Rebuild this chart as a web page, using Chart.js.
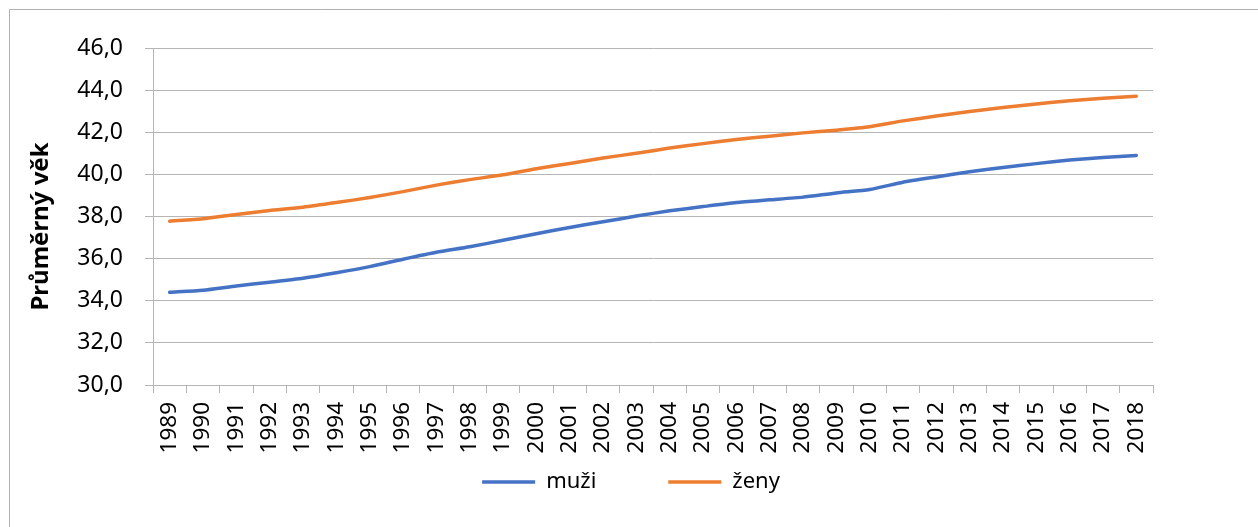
<!DOCTYPE html>
<html lang="cs">
<head>
<meta charset="utf-8">
<title>Průměrný věk</title>
<script src="https://cdn.jsdelivr.net/npm/chart.js@4/dist/chart.umd.min.js"></script>
<style>
  html, body { margin: 0; padding: 0; background: #ffffff; }
  #wrap { position: relative; width: 1258px; height: 527px; }
</style>
</head>
<body>
<div id="wrap"><canvas id="chart" width="1258" height="527"></canvas></div>
<script>
// Years on the category axis
const years = ['1989','1990','1991','1992','1993','1994','1995','1996','1997','1998',
               '1999','2000','2001','2002','2003','2004','2005','2006','2007','2008',
               '2009','2010','2011','2012','2013','2014','2015','2016','2017','2018'];

// Average age of men
const muzi = [34.4, 34.5, 34.7, 34.88, 35.07, 35.33, 35.62, 35.97, 36.3, 36.56,
              36.87, 37.18, 37.48, 37.75, 38.02, 38.27, 38.47, 38.66, 38.79, 38.92,
              39.12, 39.28, 39.63, 39.88, 40.12, 40.33, 40.51, 40.68, 40.8, 40.9];

// Average age of women
const zeny = [37.78, 37.89, 38.1, 38.28, 38.44, 38.66, 38.9, 39.18, 39.49, 39.75,
              39.98, 40.27, 40.52, 40.78, 41.0, 41.25, 41.46, 41.66, 41.81, 41.97,
              42.1, 42.26, 42.54, 42.77, 42.98, 43.17, 43.34, 43.5, 43.61, 43.71];

// Value axis ticks
const yMin = 30, yMax = 46, yStep = 2;

const FONT = '"Noto Sans", "DejaVu Sans", sans-serif';
const GRID = '#b5b5b5';

// Frame line along the top and left edge plus the rotated axis caption
const framePlugin = {
  id: 'frame',
  beforeDraw(chart) {
    const ctx = chart.ctx;
    ctx.save();
    ctx.strokeStyle = '#b0b0b0';
    ctx.lineWidth = 1;
    ctx.beginPath();
    ctx.moveTo(9.5, chart.height);
    ctx.lineTo(9.5, 9.5);
    ctx.lineTo(chart.width, 9.5);
    ctx.stroke();
    ctx.restore();
  },
  afterDraw(chart) {
    const ctx = chart.ctx;
    const area = chart.chartArea;
    ctx.save();
    ctx.translate(41, (area.top + area.bottom) / 2 + 10);
    ctx.rotate(-Math.PI / 2);
    ctx.font = 'bold 24px ' + FONT;
    ctx.fillStyle = '#000000';
    ctx.textAlign = 'center';
    ctx.textBaseline = 'middle';
    ctx.fillText('Průměrný věk', 0, 0);
    ctx.restore();
  }
};

// The legend row keeps wide horizontal gaps between entries; extend its box
// upwards so the row sits right under the year labels.
const legendRowPlugin = {
  id: 'legendRow',
  afterLayout(chart) {
    const lg = chart.legend;
    if (!lg) return;
    const shift = lg.options.labels.padding + 11;
    lg.top -= shift;
    lg.height += shift;
  }
};

new Chart(document.getElementById('chart'), {
  type: 'line',
  data: {
    labels: years,
    datasets: [
      {
        label: 'muži',
        data: muzi,
        borderColor: '#4472C4',
        backgroundColor: '#4472C4',
        borderWidth: 3.5,
        pointRadius: 0,
        tension: 0.2,
        borderCapStyle: 'round'
      },
      {
        label: 'ženy',
        data: zeny,
        borderColor: '#ED7D31',
        backgroundColor: '#ED7D31',
        borderWidth: 3.5,
        pointRadius: 0,
        tension: 0.2,
        borderCapStyle: 'round'
      }
    ]
  },
  options: {
    responsive: false,
    animation: false,
    layout: { padding: { left: 20, right: 16, top: 48, bottom: 0 } },
    plugins: {
      legend: {
        position: 'bottom',
        maxHeight: 45,
        labels: {
          usePointStyle: true,
          pointStyle: 'line',
          pointStyleWidth: 53,
          padding: 72,
          color: '#000000',
          font: { family: FONT, size: 22 }
        }
      },
      tooltip: { enabled: false }
    },
    scales: {
      x: {
        type: 'category',
        offset: true,
        afterFit(scale) { scale.height = 97; },
        grid: {
          offset: true,
          drawOnChartArea: false,
          drawTicks: true,
          tickLength: 8,
          color: GRID
        },
        border: { color: GRID, width: 1 },
        ticks: {
          autoSkip: false,
          minRotation: 90,
          maxRotation: 90,
          padding: 9,
          color: '#000000',
          font: { family: FONT, size: 22.5 }
        }
      },
      y: {
        position: 'left',
        min: yMin,
        max: yMax,
        afterFit(scale) { scale.width = 133; },
        grid: {
          drawTicks: true,
          tickLength: 8,
          color: GRID
        },
        border: { color: GRID, width: 1 },
        ticks: {
          stepSize: yStep,
          padding: 22,
          color: '#000000',
          font: { family: FONT, size: 23 },
          callback: (v) => Number(v).toFixed(1).replace('.', ',')
        }
      },
      // empty right-hand margin of the plot
      yRight: {
        position: 'right',
        display: true,
        afterFit(scale) { scale.width = 89; },
        grid: { display: false, drawTicks: false },
        border: { display: false },
        ticks: { display: false }
      }
    }
  },
  plugins: [framePlugin, legendRowPlugin]
});
</script>
</body>
</html>
